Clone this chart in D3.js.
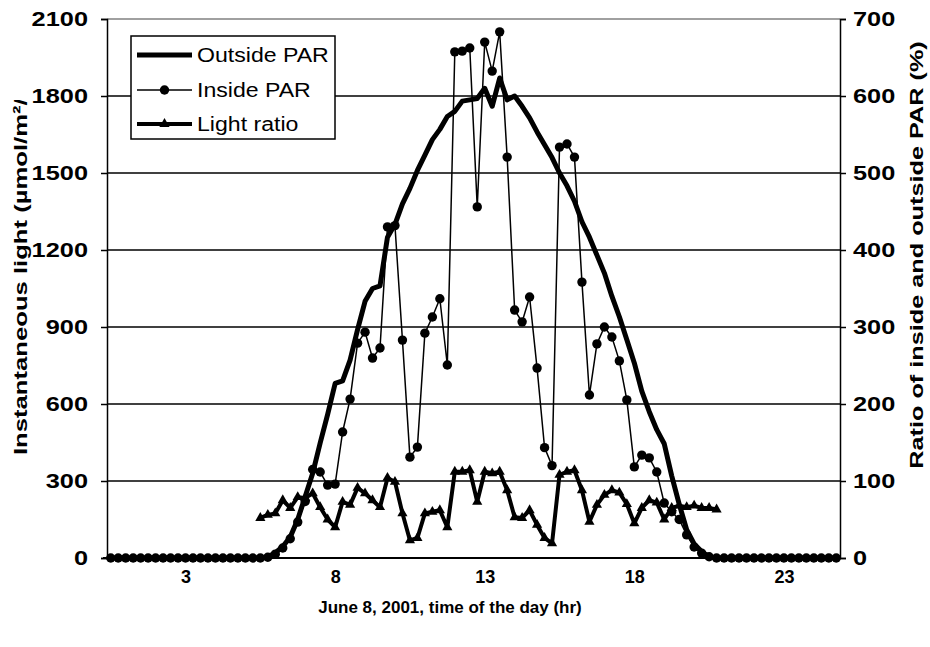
<!DOCTYPE html>
<html><head><meta charset="utf-8">
<script src="https://cdn.jsdelivr.net/npm/d3@7"></script>
<style>
body{margin:0;background:#fff}
svg{display:block}
text{font-family:Arial,"Liberation Sans",sans-serif}
</style></head>
<body><svg id="c" width="930" height="647"></svg>
<script>
// 15-minute readings, category index -> hour of the day
const hours = d3.range(98).map(i => 0.5 + 0.25 * i);
const tickHours = [3, 8, 13, 18, 23];
const leftTicks = [0, 300, 600, 900, 1200, 1500, 1800, 2100];
const rightTicks = [0, 100, 200, 300, 400, 500, 600, 700];

const outsidePAR = [
  0,0,0,0,0,0,0,0,0,0,0,0,0,0,0,0,0,0,0,0,0,
  5,20,45,82,150,240,330,448,560,680,690,771,890,1000,1050,1060,1250,1300,1380,1440,
  1510,1570,1630,1670,1720,1740,1780,1785,1790,1830,1760,1870,1785,1800,1760,1715,1660,1610,1560,1500,
  1450,1390,1310,1250,1180,1110,1020,940,850,760,650,570,500,445,320,210,110,55,25,5,
  0,0,0,0,0,0,0,0,0,0,0,0,0,0,0,0,0
];
const insidePAR = [
  0,0,0,0,0,0,0,0,0,0,0,0,0,0,0,0,0,0,0,0,0,
  3,15,39,75,140,220,345,335,284,288,491,619,837,880,779,818,1290,1295,849,393,
  432,876,939,1010,752,1972,1975,1987,1368,2010,1897,2050,1562,966,920,1017,740,430,360,1601,
  1613,1562,1075,635,834,900,861,768,616,355,401,390,335,214,180,150,90,43,19,5,
  0,0,0,0,0,0,0,0,0,0,0,0,0,0,0,0,0
];
const lightRatio = [
  null,null,null,null,null,null,null,null,null,null,null,null,null,null,null,null,null,null,null,null,
  52,56,58,75,65,79,78,84,66,50,40,73,69,91,84,75,66,104,99,58,
  23,26,58,60,62,40,112,112,114,73,112,110,112,88,53,52,62,43,26,19,
  108,112,114,88,47,69,82,88,85,70,45,65,75,72,50,65,68,66,68,65,
  65,63,
  null,null,null,null,null,null,null,null,null,null,null,null,null,null,null,null
];
const seriesNames = ["Outside PAR", "Inside PAR", "Light ratio"];

const svg = d3.select("#c");
const L = 107, R = 840, T = 19, B = 558;
const step = 0.25;
const x = d3.scaleLinear().domain([hours[0] - step / 2, hours[hours.length - 1] + step / 2]).range([L, R]);
const yL = d3.scaleLinear().domain([0, 2100]).range([B, T]);
const yR = d3.scaleLinear().domain([0, 700]).range([B, T]);
const FF = "Arial, 'Liberation Sans', sans-serif";
const WIDE = 1.3;   // the source's labels are rendered wide

// gridlines
svg.append("g").selectAll("line").data(leftTicks.slice(1, -1)).join("line")
  .attr("x1", L).attr("x2", R).attr("y1", d => yL(d)).attr("y2", d => yL(d))
  .attr("stroke", "#000").attr("stroke-width", 1.5);
// top border
svg.append("line").attr("x1", L).attr("x2", R).attr("y1", T).attr("y2", T)
  .attr("stroke", "#808080").attr("stroke-width", 1.5);

// left axis
const gl = svg.append("g").attr("transform", `translate(${L},0)`)
  .call(d3.axisLeft(yL).tickValues(leftTicks).tickSize(6).tickPadding(19).tickFormat(d3.format("d")));
gl.select(".domain").attr("stroke-width", 1.5);
gl.selectAll(".tick line").attr("stroke-width", 1.5);
gl.selectAll("text").attr("font-size", "19.5px").attr("font-weight", "bold").attr("font-family", FF)
  .attr("x", -19 / WIDE).attr("transform", `scale(${WIDE},1)`);

// right axis
const gr = svg.append("g").attr("transform", `translate(${R},0)`)
  .call(d3.axisRight(yR).tickValues(rightTicks).tickSize(6).tickPadding(13).tickFormat(d3.format("d")));
gr.select(".domain").attr("stroke-width", 1.5);
gr.selectAll(".tick line").attr("stroke-width", 1.5);
gr.selectAll("text").attr("font-size", "19.5px").attr("font-weight", "bold").attr("font-family", FF)
  .attr("x", 13 / WIDE).attr("transform", `scale(${WIDE},1)`);

// bottom axis
const gb = svg.append("g").attr("transform", `translate(0,${B})`)
  .call(d3.axisBottom(x).tickValues(tickHours).tickSize(0).tickPadding(12).tickFormat(d3.format("d")));
gb.select(".domain").attr("stroke-width", 2).attr("d", `M${L - 4},0H${R}`);
gb.selectAll("text").attr("font-size", "18px").attr("font-weight", "bold").attr("font-family", FF);

// titles
svg.append("defs").append("clipPath").attr("id", "ytclip")
  .append("rect").attr("x", 0).attr("y", 100).attr("width", 60).attr("height", 547);
svg.append("g").attr("clip-path", "url(#ytclip)").append("text")
  .attr("transform", `translate(27,455) rotate(-90) scale(1.35,1)`)
  .attr("text-anchor", "start").attr("font-size", "19px").attr("font-weight", "bold")
  .text("Instantaneous light (µmol/m²/s)");
svg.append("text")
  .attr("transform", `translate(923,255) rotate(-90) scale(1.33,1)`)
  .attr("text-anchor", "middle").attr("font-size", "19px").attr("font-weight", "bold")
  .text("Ratio of inside and outside PAR (%)");
svg.append("text").attr("x", 450).attr("y", 613)
  .attr("text-anchor", "middle").attr("font-size", "17px").attr("font-weight", "bold")
  .text("June 8, 2001, time of the day (hr)");

// series
const idx = d3.range(hours.length);
function lineFor(vals, scale) {
  return d3.line().defined(i => vals[i] != null).x(i => x(hours[i])).y(i => scale(vals[i]))(idx);
}
svg.append("path").attr("d", lineFor(outsidePAR, yL)).attr("fill", "none")
  .attr("stroke", "#000").attr("stroke-width", 5).attr("stroke-linejoin", "round");
svg.append("path").attr("d", lineFor(insidePAR, yL)).attr("fill", "none")
  .attr("stroke", "#000").attr("stroke-width", 1.5);
svg.append("g").selectAll("circle").data(idx).join("circle")
  .attr("cx", i => x(hours[i])).attr("cy", i => yL(insidePAR[i])).attr("r", 4.7).attr("fill", "#000");
svg.append("path").attr("d", lineFor(lightRatio, yR)).attr("fill", "none")
  .attr("stroke", "#000").attr("stroke-width", 4).attr("stroke-linejoin", "round");
const tri = d3.symbol().type(d3.symbolTriangle).size(45);
svg.append("g").selectAll("path").data(idx.filter(i => lightRatio[i] != null)).join("path")
  .attr("d", tri).attr("transform", i => `translate(${x(hours[i])},${yR(lightRatio[i])})`).attr("fill", "#000");

// legend
const lg = svg.append("g");
lg.append("rect").attr("x", 131).attr("y", 36).attr("width", 204).attr("height", 103)
  .attr("fill", "#fff").attr("stroke", "#000").attr("stroke-width", 1.5);
const rows = [55, 90, 124];
seriesNames.forEach((name, k) => {
  const yy = rows[k];
  lg.append("line").attr("x1", 137).attr("x2", 192).attr("y1", yy).attr("y2", yy)
    .attr("stroke", "#000").attr("stroke-width", k === 1 ? 1.5 : (k === 0 ? 5 : 4));
  if (k === 1) lg.append("circle").attr("cx", 164.5).attr("cy", yy).attr("r", 4.7).attr("fill", "#000");
  if (k === 2) lg.append("path").attr("d", tri).attr("transform", `translate(164.5,${yy})`).attr("fill", "#000");
  lg.append("text").attr("transform", `translate(197,${yy}) scale(1.1,1)`).attr("dy", "0.35em")
    .attr("font-size", "21px").text(name);
});
</script></body></html>
